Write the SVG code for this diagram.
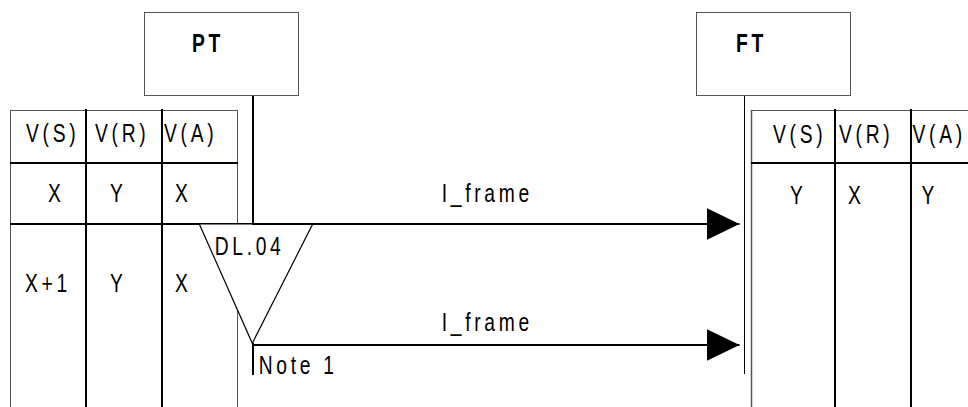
<svg xmlns="http://www.w3.org/2000/svg" width="968" height="407" viewBox="0 0 968 407">
<style>
  .t { font-family: "Liberation Sans", Arial, sans-serif; font-size: 25px; letter-spacing: 4.8px; fill: #000; }
  .b { font-weight: bold; }
  .box { fill: #fff; stroke: #555; stroke-width: 1; }
  .thin { stroke: #555; stroke-width: 1; fill: none; }
  .thick { stroke: #000; stroke-width: 2; fill: none; }
  .life { stroke: #000; stroke-width: 1; fill: none; }
  .arrow { stroke: #000; stroke-width: 2; fill: none; marker-end: url(#ah); }
</style>
<defs>
  <marker id="ah" markerUnits="userSpaceOnUse" markerWidth="33" markerHeight="32" viewBox="0 0 33 32" refX="33" refY="16" orient="auto">
    <path d="M0,0 L33,16 L0,32 Z" fill="#000"/>
  </marker>
</defs>
<rect width="968" height="407" fill="#fff"/>

<g id="node-PT">
  <rect class="box" x="144.5" y="12.5" width="154" height="83"/>
  <text class="t b" transform="translate(192,52) scale(0.77,1)">PT</text>
</g>
<g id="node-FT">
  <rect class="box" x="696.5" y="12.5" width="154" height="83"/>
  <text class="t b" transform="translate(736,52) scale(0.77,1)">FT</text>
</g>

<g id="table-PT">
  <line class="thin" x1="10" y1="110.5" x2="238" y2="110.5"/>
  <line class="thin" x1="10.5" y1="110" x2="10.5" y2="407"/>
  <line class="thin" x1="237.5" y1="110" x2="237.5" y2="407"/>
  <line class="thick" x1="86" y1="109" x2="86" y2="407"/>
  <line class="thick" x1="162" y1="109" x2="162" y2="407"/>
  <line class="thick" x1="10" y1="163" x2="238" y2="163"/>
  <line class="thick" x1="10" y1="224" x2="253" y2="224"/>
  <text class="t" transform="translate(26,142) scale(0.77,1)">V(S)</text>
  <text class="t" transform="translate(95,142) scale(0.77,1)">V(R)</text>
  <text class="t" transform="translate(164,142) scale(0.77,1)">V(A)</text>
  <text class="t" transform="translate(48,202) scale(0.77,1)">X</text>
  <text class="t" transform="translate(110,202) scale(0.77,1)">Y</text>
  <text class="t" transform="translate(175,202) scale(0.77,1)">X</text>
  <text class="t" transform="translate(25,292) scale(0.77,1)">X+1</text>
  <text class="t" transform="translate(110,292) scale(0.77,1)">Y</text>
  <text class="t" transform="translate(175,292) scale(0.77,1)">X</text>
</g>

<g id="table-FT">
  <line class="thin" x1="751" y1="110.5" x2="968" y2="110.5"/>
  <line class="thin" x1="751.5" y1="110" x2="751.5" y2="407" style="stroke-width:1.5"/>
  <line class="thick" x1="835" y1="109" x2="835" y2="407"/>
  <line class="thick" x1="911" y1="109" x2="911" y2="407"/>
  <line class="thick" x1="751" y1="163" x2="968" y2="163"/>
  <text class="t" transform="translate(773,143) scale(0.77,1)">V(S)</text>
  <text class="t" transform="translate(839,143) scale(0.77,1)">V(R)</text>
  <text class="t" transform="translate(912.5,143) scale(0.77,1)">V(A)</text>
  <text class="t" transform="translate(790,204) scale(0.77,1)">Y</text>
  <text class="t" transform="translate(848,204) scale(0.77,1)">X</text>
  <text class="t" transform="translate(921.5,204) scale(0.77,1)">Y</text>
</g>

<g id="timer-DL04">
  <polygon points="199.3,224 312.7,224 252.3,343.3" fill="#fff" stroke="#000" stroke-width="1.2"/>
  <text class="t" transform="translate(214.7,255) scale(0.77,1)">DL.04</text>
</g>

<g id="connectors">
  <line class="thick" x1="253" y1="96" x2="253" y2="224"/>
  <line class="life" x1="744.5" y1="96" x2="744.5" y2="374"/>
  <line class="arrow" x1="252" y1="224" x2="739.5" y2="224"/>
  <line class="arrow" x1="252" y1="345" x2="739.5" y2="345"/>
  <line class="thick" x1="253" y1="343" x2="253" y2="375"/>
  <text class="t" transform="translate(441.7,202) scale(0.77,1)">I_frame</text>
  <text class="t" transform="translate(441.7,331) scale(0.77,1)">I_frame</text>
  <text class="t" transform="translate(258.7,374) scale(0.77,1)">Note 1</text>
</g>
</svg>
